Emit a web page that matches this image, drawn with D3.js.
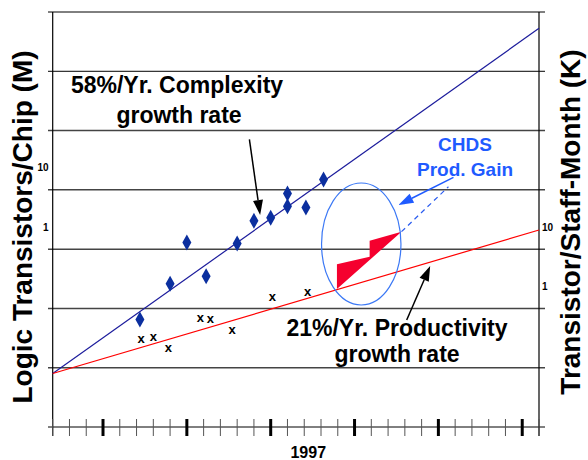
<!DOCTYPE html>
<html>
<head>
<meta charset="utf-8">
<script src="https://cdn.jsdelivr.net/npm/d3@7"></script>
<style>
  html, body { margin: 0; padding: 0; background: #fff; }
  svg { display: block; }
  text { font-family: "Liberation Sans", Arial, Helvetica, sans-serif; font-weight: bold; }
</style>
</head>
<body>
<svg id="chart" width="588" height="460"></svg>
<script>
// ---- data ----
const yearsDomain = [1982, 2011];
const tickYears = d3.range(1982, 2012);
const labelYear = 1997;
const leftTickLabels = [10, 1];
const rightTickLabels = [10, 1];

// Logic transistors per chip (M) - left axis
const complexityYears = [1987.2, 1989.0, 1990.0, 1991.15, 1993.0, 1994.0, 1995.0, 1996.0, 1996.0, 1997.1, 1998.15];
const complexityValues = [0.065, 0.26, 1.3, 0.35, 1.25, 3.0, 3.4, 8.7, 5.3, 5.05, 15.0];

// Transistors per staff-month (K) - right axis
const productivityYears = [1987.27, 1988.0, 1988.9, 1990.8, 1991.4, 1992.7, 1995.1, 1997.2];
const productivityValues = [0.30, 0.33, 0.21, 0.67, 0.65, 0.43, 1.57, 1.84];

// Trend lines
const complexityTrendYears = [1982, 2011];
const complexityTrendValues = [0.0080, 5300];
const productivityTrendYears = [1982, 2011];
const productivityTrendValues = [0.080, 21];

// CHDS productivity gain wedge (right axis)
const gainYears = [1998.95, 1998.95, 2000.9, 2000.9, 2002.8];
const gainValues = [2.12, 5.54, 7.45, 13.9, 19.7];
const gainExtYears = [2002.8, 2005.6];
const gainExtValues = [19.7, 113];
const ellipseCenter = {year: 2000.4, value: 12.2};

// annotation arrows [fromYear, fromValue, toYear, toValue]
const arrowComplexity = [1993.73, 71, 1994.37, 3.76];      // left axis
const arrowProductivity = [2003.11, 0.637, 2004.51, 5.19];  // right axis
const arrowGain = [2005.9, 162.6, 2002.62, 55.5];           // right axis

// ---- layout ----
const svg = d3.select("#chart");
const L = 52.7, R = 539, T = 12, B = 427;

const x = d3.scaleLinear().domain(yearsDomain).range([L, R]);
const yL = d3.scaleLog().domain([1e-3, 1e4]).range([B, T]);
const yR = d3.scaleLog().domain([1e-2, 1e5]).range([B, T]);

// gridlines (decades)
const decades = d3.range(-3, 5).map(k => Math.pow(10, k));
svg.append("g").selectAll("line").data(decades).join("line")
  .attr("x1", 48).attr("x2", 545)
  .attr("y1", d => yL(d)).attr("y2", d => yL(d))
  .attr("stroke", (d, i) => (i === 0 || i === 7 || i === 6) ? "#000" : "#444")
  .attr("stroke-width", (d, i) => (i === 0 || i === 7 || i === 6) ? 1 : 1.5);

// vertical axes
svg.append("line").attr("x1", L).attr("x2", L).attr("y1", T).attr("y2", 436).attr("stroke", "#000").attr("stroke-width", 1.2);
svg.append("line").attr("x1", R).attr("x2", R).attr("y1", T).attr("y2", 436).attr("stroke", "#000").attr("stroke-width", 1.2);

// bottom axis ticks
const xAxis = svg.append("g");
xAxis.selectAll("line").data(tickYears).join("line")
  .attr("x1", d => x(d)).attr("x2", d => x(d))
  .attr("y1", 419).attr("y2", 436)
  .attr("stroke", d => d % 5 === 0 ? "#000" : "#555")
  .attr("stroke-width", d => d % 5 === 0 ? 3 : 1);
svg.append("text").attr("x", x(labelYear) + 4).attr("y", 458)
  .attr("text-anchor", "middle").attr("font-size", 16).text(String(labelYear));

// tick labels
svg.append("g").selectAll("text").data(leftTickLabels).join("text")
  .attr("x", 48.5).attr("y", d => yL(d) - 21)
  .attr("text-anchor", "end").attr("dominant-baseline", "middle")
  .attr("font-size", 10).text(d => d);
svg.append("g").selectAll("text").data(rightTickLabels).join("text")
  .attr("x", 542).attr("y", d => yR(d) - 21)
  .attr("text-anchor", "start").attr("dominant-baseline", "middle")
  .attr("font-size", 10).text(d => d);

// axis titles
svg.append("text").attr("transform", "translate(32,227) rotate(-90)")
  .attr("text-anchor", "middle").attr("font-size", 28).text("Logic Transistors/Chip (M)");
svg.append("text").attr("transform", "translate(580,222) rotate(-90)")
  .attr("text-anchor", "middle").attr("font-size", 28).text("Transistor/Staff-Month (K)");

// trend lines
const lineL = d3.line().x(d => x(d[0])).y(d => yL(d[1]));
const lineR = d3.line().x(d => x(d[0])).y(d => yR(d[1]));
svg.append("path").attr("d", lineL(d3.zip(complexityTrendYears, complexityTrendValues)))
  .attr("fill", "none").attr("stroke", "#1c1c9c").attr("stroke-width", 1.2);
svg.append("path").attr("d", lineR(d3.zip(productivityTrendYears, productivityTrendValues)))
  .attr("fill", "none").attr("stroke", "#ff0000").attr("stroke-width", 1.2);

// diamonds
svg.append("g").selectAll("path").data(d3.zip(complexityYears, complexityValues)).join("path")
  .attr("d", "M0,-8L4.5,0L0,8L-4.5,0Z")
  .attr("transform", d => `translate(${x(d[0])},${yL(d[1])})`)
  .attr("fill", "#0b2f9f");

// x marks
svg.append("g").selectAll("text").data(d3.zip(productivityYears, productivityValues)).join("text")
  .attr("x", d => x(d[0])).attr("y", d => yR(d[1]) + 3.7)
  .attr("text-anchor", "middle").attr("font-size", 13).text("x");

// gain wedge
svg.append("path").attr("d", lineR(d3.zip(gainYears, gainValues)) + "Z")
  .attr("fill", "#f5002e");
svg.append("path").attr("d", lineR(d3.zip(gainExtYears, gainExtValues)))
  .attr("fill", "none").attr("stroke", "#2a5cf0").attr("stroke-width", 1.2).attr("stroke-dasharray", "5,4");
svg.append("ellipse").attr("cx", x(ellipseCenter.year)).attr("cy", yR(ellipseCenter.value))
  .attr("rx", 39.7).attr("ry", 61)
  .attr("fill", "none").attr("stroke", "#3b78f5").attr("stroke-width", 1.2);

// arrows
function arrow(a, ys, color) {
  const x1 = x(a[0]), y1 = ys(a[1]), x2 = x(a[2]), y2 = ys(a[3]);
  const ang = Math.atan2(y2 - y1, x2 - x1);
  const hl = 15, hw = 5;
  const bx = x2 - hl * Math.cos(ang), by = y2 - hl * Math.sin(ang);
  svg.append("line").attr("x1", x1).attr("y1", y1).attr("x2", bx).attr("y2", by)
    .attr("stroke", color).attr("stroke-width", 1.5);
  const px = -Math.sin(ang) * hw, py = Math.cos(ang) * hw;
  svg.append("path")
    .attr("d", `M${x2},${y2}L${bx + px},${by + py}L${bx - px},${by - py}Z`)
    .attr("fill", color);
}
arrow(arrowComplexity, yL, "#000");
arrow(arrowProductivity, yR, "#000");
arrow(arrowGain, yR, "#1f5bff");

// annotation texts
const t1 = svg.append("text").attr("text-anchor", "middle").attr("font-size", 23).attr("fill", "#000");
t1.append("tspan").attr("x", 177).attr("y", 93).text("58%/Yr. Complexity");
t1.append("tspan").attr("x", 179).attr("y", 123).text("growth rate");
const t2 = svg.append("text").attr("text-anchor", "middle").attr("font-size", 23).attr("fill", "#000");
t2.append("tspan").attr("x", 397).attr("y", 336).text("21%/Yr. Productivity");
t2.append("tspan").attr("x", 397).attr("y", 361.5).text("growth rate");
const t3 = svg.append("text").attr("text-anchor", "middle").attr("font-size", 19).attr("fill", "#1f5bff");
t3.append("tspan").attr("x", 465).attr("y", 151).text("CHDS");
t3.append("tspan").attr("x", 465).attr("y", 176).text("Prod. Gain");
</script>
</body>
</html>
